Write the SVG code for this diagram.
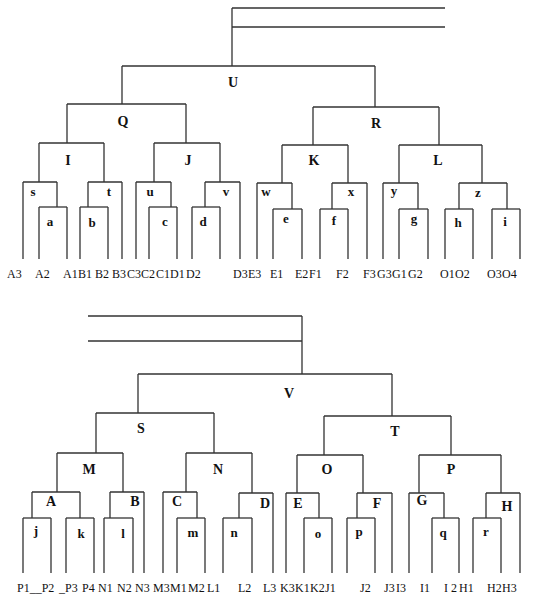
<svg xmlns="http://www.w3.org/2000/svg" width="537" height="600" viewBox="0 0 537 600">
<style>
.ln{stroke:#333;stroke-width:1.3;fill:none}
.nl{font-family:"Liberation Serif","Times New Roman",serif;font-weight:bold;fill:#111;text-anchor:middle}
.up{font-size:14px}
.lo{font-size:13px}
.lf{font-family:"Liberation Serif","Times New Roman",serif;font-size:12px;fill:#111}
</style>
<rect width="537" height="600" fill="#fff"/>
<g id="connectors" class="ln">
<path d="M232 8H445M232 27H445M232 8V66"/>
<path d="M122 66V104M375 66V107M67 104V143M186 104V143M313 107V145M439 107V145"/>
<path d="M39 143V182M104 143V182M154 143V182M220 143V182M282 145V183M348 145V183M399 145V183M482 145V183"/>
<path d="M57 182V207M88 182V207M171 182V207M205 182V207M292 183V209M332 183V209M418 183V209M459 183V209M507 183V209"/>
<path d="M23 182V259M39 207V259M67 207V259M80 207V259M108 207V259M122 182V259M136 182V259M149 207V259M177 207V259M192 207V259M220 207V259M240 182V259M257 183V259M273 209V259M302 209V259M320 209V259M348 209V259M367 183V259M383 183V259M399 209V259M428 209V259M445 209V259M473 209V259M492 209V259M520 209V259"/>
<path d="M88 316H302M88 341H302M302 316V374"/>
<path d="M138 374V413M392 374V416M96 413V453M214 413V453M324 416V455M451 416V455"/>
<path d="M57 453V492M123 453V492M186 453V492M252 453V493M297 455V493M363 455V493M419 455V493M501 455V493"/>
<path d="M32 492V518M80 492V518M110 492V518M197 492V518M239 493V518M319 493V518M357 493V518M444 493V518M486 493V518"/>
<path d="M23 518V573M51 518V573M66 518V573M94 518V573M104 518V573M133 518V573M144 492V573M163 492V573M177 518V573M205 518V573M223 518V573M252 518V573M273 493V573M286 493V573M304 518V573M332 518V573M347 518V573M375 518V573M392 493V573M409 493V573M432 518V573M459 518V573M473 518V573M501 518V573M520 493V573"/>
</g>
<g id="node-U"><path class="ln" d="M122 66H375"/><text class="nl up" x="233" y="87">U</text></g>
<g id="node-Q"><path class="ln" d="M67 104H186"/><text class="nl up" x="123" y="126">Q</text></g>
<g id="node-R"><path class="ln" d="M313 107H439"/><text class="nl up" x="376" y="128">R</text></g>
<g id="node-I"><path class="ln" d="M39 143H104"/><text class="nl up" x="68" y="165">I</text></g>
<g id="node-J"><path class="ln" d="M154 143H220"/><text class="nl up" x="188" y="165">J</text></g>
<g id="node-K"><path class="ln" d="M282 145H348"/><text class="nl up" x="314" y="165">K</text></g>
<g id="node-L"><path class="ln" d="M399 145H482"/><text class="nl up" x="438" y="165">L</text></g>
<g id="node-s"><path class="ln" d="M23 182H57"/><text class="nl lo" x="33" y="196">s</text></g>
<g id="node-t"><path class="ln" d="M88 182H122"/><text class="nl lo" x="109" y="196">t</text></g>
<g id="node-u"><path class="ln" d="M136 182H171"/><text class="nl lo" x="150" y="196">u</text></g>
<g id="node-v"><path class="ln" d="M205 182H240"/><text class="nl lo" x="226" y="196">v</text></g>
<g id="node-w"><path class="ln" d="M257 183H292"/><text class="nl lo" x="266" y="196">w</text></g>
<g id="node-x"><path class="ln" d="M332 183H367"/><text class="nl lo" x="351" y="196">x</text></g>
<g id="node-y"><path class="ln" d="M383 183H418"/><text class="nl lo" x="394" y="195">y</text></g>
<g id="node-z"><path class="ln" d="M459 183H507"/><text class="nl lo" x="478" y="197">z</text></g>
<g id="node-a"><path class="ln" d="M39 207H67"/><text class="nl lo" x="50" y="226">a</text></g>
<g id="node-b"><path class="ln" d="M80 207H108"/><text class="nl lo" x="92" y="227">b</text></g>
<g id="node-c"><path class="ln" d="M149 207H177"/><text class="nl lo" x="165" y="226">c</text></g>
<g id="node-d"><path class="ln" d="M192 207H220"/><text class="nl lo" x="203" y="226">d</text></g>
<g id="node-e"><path class="ln" d="M273 209H302"/><text class="nl lo" x="286" y="223">e</text></g>
<g id="node-f"><path class="ln" d="M320 209H348"/><text class="nl lo" x="334" y="225">f</text></g>
<g id="node-g"><path class="ln" d="M399 209H428"/><text class="nl lo" x="414" y="223">g</text></g>
<g id="node-h"><path class="ln" d="M445 209H473"/><text class="nl lo" x="458" y="227">h</text></g>
<g id="node-i"><path class="ln" d="M492 209H520"/><text class="nl lo" x="505" y="226">i</text></g>
<g id="leaves-top" class="lf">
<text x="7" y="278">A3</text><text x="35" y="278">A2</text><text x="63" y="278">A1</text><text x="78" y="278">B1</text><text x="95" y="278">B2</text><text x="112" y="278">B3</text><text x="127" y="278">C3</text><text x="141" y="278">C2</text><text x="156" y="278">C1</text><text x="170" y="278">D1</text><text x="186" y="278">D2</text><text x="233" y="278">D3</text><text x="248" y="278">E3</text><text x="270" y="278">E1</text><text x="295" y="278">E2</text><text x="309" y="278">F1</text><text x="336" y="278">F2</text><text x="363" y="278">F3</text><text x="377" y="278">G3</text><text x="392" y="278">G1</text><text x="408" y="278">G2</text><text x="440" y="278">O1</text><text x="455" y="278">O2</text><text x="487" y="278">O3</text><text x="502" y="278">O4</text>
</g>
<g id="node-V"><path class="ln" d="M138 374H392"/><text class="nl up" x="289" y="398">V</text></g>
<g id="node-S"><path class="ln" d="M96 413H214"/><text class="nl up" x="141" y="433">S</text></g>
<g id="node-T"><path class="ln" d="M324 416H451"/><text class="nl up" x="395" y="436">T</text></g>
<g id="node-M"><path class="ln" d="M57 453H123"/><text class="nl up" x="89" y="474">M</text></g>
<g id="node-N"><path class="ln" d="M186 453H252"/><text class="nl up" x="218" y="474">N</text></g>
<g id="node-O"><path class="ln" d="M297 455H363"/><text class="nl up" x="327" y="474">O</text></g>
<g id="node-P"><path class="ln" d="M419 455H501"/><text class="nl up" x="451" y="474">P</text></g>
<g id="node-A"><path class="ln" d="M32 492H80"/><text class="nl up" x="51" y="506">A</text></g>
<g id="node-B"><path class="ln" d="M110 492H144"/><text class="nl up" x="135" y="506">B</text></g>
<g id="node-C"><path class="ln" d="M163 492H197"/><text class="nl up" x="177" y="506">C</text></g>
<g id="node-D"><path class="ln" d="M239 493H273"/><text class="nl up" x="265" y="508">D</text></g>
<g id="node-E"><path class="ln" d="M286 493H319"/><text class="nl up" x="298" y="508">E</text></g>
<g id="node-F"><path class="ln" d="M357 493H392"/><text class="nl up" x="377" y="508">F</text></g>
<g id="node-G"><path class="ln" d="M409 493H444"/><text class="nl up" x="422" y="505">G</text></g>
<g id="node-H"><path class="ln" d="M486 493H520"/><text class="nl up" x="507" y="511">H</text></g>
<g id="node-j"><path class="ln" d="M23 518H51"/><text class="nl lo" x="36" y="535">j</text></g>
<g id="node-k"><path class="ln" d="M66 518H94"/><text class="nl lo" x="81" y="538">k</text></g>
<g id="node-l"><path class="ln" d="M104 518H133"/><text class="nl lo" x="123" y="538">l</text></g>
<g id="node-m"><path class="ln" d="M177 518H205"/><text class="nl lo" x="193" y="537">m</text></g>
<g id="node-n"><path class="ln" d="M223 518H252"/><text class="nl lo" x="234" y="537">n</text></g>
<g id="node-o"><path class="ln" d="M304 518H332"/><text class="nl lo" x="318" y="538">o</text></g>
<g id="node-p"><path class="ln" d="M347 518H375"/><text class="nl lo" x="359" y="536">p</text></g>
<g id="node-q"><path class="ln" d="M432 518H459"/><text class="nl lo" x="443" y="537">q</text></g>
<g id="node-r"><path class="ln" d="M473 518H501"/><text class="nl lo" x="486" y="536">r</text></g>
<g id="leaves-bottom" class="lf">
<text x="17" y="592">P1__P2</text><text x="59" y="592">_P3</text><text x="82" y="592">P4</text><text x="98" y="592">N1</text><text x="117" y="592">N2</text><text x="135" y="592">N3</text><text x="153" y="592">M3</text><text x="170" y="592">M1</text><text x="188" y="592">M2</text><text x="207" y="592">L1</text><text x="238" y="592">L2</text><text x="263" y="592">L3</text><text x="280" y="592">K3</text><text x="295" y="592">K1</text><text x="310" y="592">K2</text><text x="325" y="592">J1</text><text x="360" y="592">J2</text><text x="384" y="592">J3</text><text x="396" y="592">I3</text><text x="420" y="592">I1</text><text x="444" y="592">I 2</text><text x="459" y="592">H1</text><text x="487" y="592">H2</text><text x="502" y="592">H3</text>
</g>
</svg>
